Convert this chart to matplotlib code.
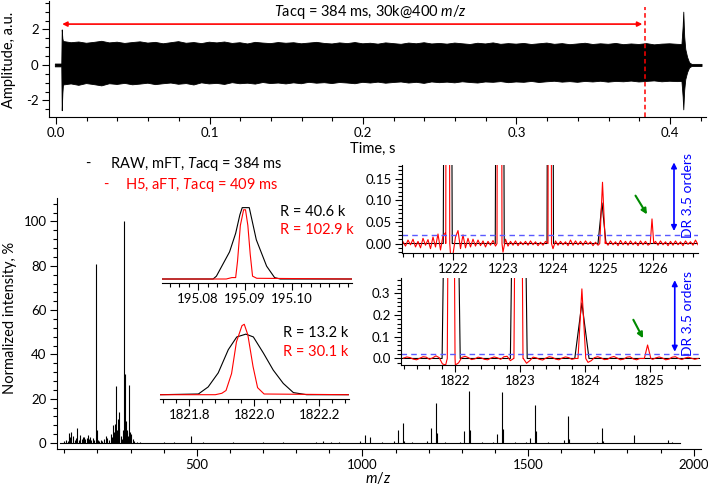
import numpy as np
import matplotlib
matplotlib.use("Agg")
import matplotlib.pyplot as plt
from matplotlib.ticker import MultipleLocator, FormatStrFormatter, FixedLocator

plt.rcParams['font.family'] = ['Lato', 'DejaVu Sans']
plt.rcParams['mathtext.fontset'] = 'custom'
plt.rcParams['mathtext.rm'] = 'Lato'
plt.rcParams['mathtext.it'] = 'Lato:italic'
plt.rcParams['axes.unicode_minus'] = False
plt.rcParams['font.size'] = 10

RED = '#ff0000'
BLUE = '#0000ff'
GREEN = '#008a00'

# ---------------- data ----------------
# time-domain transient envelope (s, a.u.)
t_start = [-0.0008, 0.0034, 0.0037, 0.0041]
hi_start = [0.08, 0.08, 2.0, 1.5]
lo_start = [-0.08, -0.08, -2.55, -1.6]
t_body = np.linspace(0.0045, 0.4045, 81)
hi_body = [1.35, 1.28, 1.32, 1.25, 1.30, 1.36, 1.27, 1.31, 1.24, 1.29,
           1.33, 1.26, 1.30, 1.22, 1.28, 1.34, 1.25, 1.29, 1.23, 1.31,
           1.27, 1.32, 1.24, 1.28, 1.21, 1.30, 1.26, 1.23, 1.29, 1.25,
           1.28, 1.22, 1.26, 1.30, 1.24, 1.21, 1.27, 1.23, 1.29, 1.22,
           1.25, 1.20, 1.27, 1.23, 1.19, 1.26, 1.22, 1.28, 1.21, 1.24,
           1.20, 1.26, 1.22, 1.18, 1.25, 1.21, 1.27, 1.19, 1.23, 1.20,
           1.24, 1.18, 1.22, 1.26, 1.19, 1.23, 1.17, 1.21, 1.25, 1.18,
           1.22, 1.19, 1.24, 1.17, 1.21, 1.18, 1.23, 1.16, 1.20, 1.22,
           1.19]
lo_body = [-1.10, -1.04, -1.12, -1.02, -1.08, -1.15, -1.03, -1.07, -1.01, -1.09,
           -1.05, -1.00, -1.08, -1.03, -0.99, -1.06, -1.02, -1.10, -0.98, -1.04,
           -1.01, -1.07, -0.97, -1.03, -1.00, -1.05, -0.96, -1.02, -0.99, -1.04,
           -0.98, -1.03, -0.95, -1.00, -0.97, -1.02, -0.96, -0.99, -1.03, -0.95,
           -0.99, -0.94, -1.00, -0.96, -0.93, -0.99, -0.95, -1.01, -0.93, -0.97,
           -0.94, -0.98, -0.92, -0.96, -0.99, -0.93, -0.95, -0.91, -0.97, -0.93,
           -0.95, -0.90, -0.96, -0.92, -0.89, -0.94, -0.91, -0.95, -0.90, -0.93,
           -0.89, -0.94, -0.90, -0.92, -0.88, -0.93, -0.90, -0.87, -0.92, -0.89,
           -0.91]
t_end = [0.4075, 0.4083, 0.4087, 0.4093, 0.4100, 0.4112, 0.4125, 0.4140, 0.4206]
hi_end = [1.18, 2.2, 3.0, 1.6, 0.9, 0.45, 0.15, 0.06, 0.06]
lo_end = [-0.90, -1.8, -2.5, -1.4, -0.8, -0.40, -0.14, -0.06, -0.06]

# mass spectrum sticks (m/z, %)
spec_mz = [98, 104, 110, 114, 118, 121, 126, 131, 134, 139, 143, 148, 152, 156, 160,
           164, 168, 171, 175, 178, 182, 186, 190, 195, 198, 202, 206, 211, 215, 220,
           225, 229, 234, 240, 244, 247, 251, 254, 256, 259, 261, 264, 266, 270, 274,
           278, 281, 283, 285, 288, 290, 293, 296, 299, 302, 306, 311, 318, 330,
           400, 430, 481, 520, 610, 700, 760, 860, 880, 905, 930, 994, 1008, 1023,
           1060, 1096, 1108, 1121, 1124, 1150, 1195, 1208, 1222, 1225, 1250, 1295,
           1308, 1322, 1325, 1360, 1395, 1407, 1422, 1425, 1460, 1495, 1507, 1521,
           1524, 1560, 1607, 1621, 1624, 1707, 1722, 1725, 1821, 1921, 1935]
spec_int = [1.0, 1.5, 0.8, 4.5, 2.5, 4.8, 3.0, 1.5, 2.2, 6.8, 1.5, 3.4, 2.0, 2.5, 2.8,
            1.8, 2.2, 3.6, 2.0, 2.6, 1.5, 2.4, 1.2, 80.8, 5.8, 1.5, 1.0, 1.2, 0.8, 2.0,
            3.0, 2.4, 1.5, 4.0, 2.5, 8.0, 5.0, 8.8, 25.7, 6.0, 11.0, 7.0, 13.9, 3.0, 2.0,
            6.0, 100, 31, 10, 6, 5, 3, 26, 5, 4, 2, 1, 0.5, 0.3,
            0.3, 0.4, 3.2, 0.3, 0.3, 0.4, 0.3, 0.6, 1.0, 0.4, 0.3, 1.0, 3.6, 2.8,
            0.5, 0.8, 5.9, 9.2, 0.8, 0.4, 0.7, 6.8, 18.2, 4.5, 0.3, 0.6,
            5.4, 23.5, 5.9, 0.4, 0.6, 4.1, 22.9, 6.2, 0.3, 0.5, 2.4, 17.1,
            5.5, 0.3, 1.3, 12.2, 1.8, 0.5, 7.0, 1.0, 3.6, 1.3, 0.4]

# inset: m/z 195.09 peak (normalized)
p195_raw_mz = [195.0723, 195.0832, 195.0839, 195.0867, 195.0880, 195.0889, 195.0894,
               195.0909, 195.0924, 195.0946, 195.0963, 195.0975, 195.1128]
p195_raw_y = [0.0, 0.0, 0.04, 0.38, 0.64, 0.90, 1.0, 1.0, 0.55, 0.18, 0.02, 0.0, 0.0]
p195_h5_mz = [195.0723, 195.0860, 195.0872, 195.0880, 195.0884, 195.0890, 195.0897,
              195.0901, 195.0906, 195.0911, 195.0916, 195.0925, 195.1128]
p195_h5_y = [0.0, 0.0, 0.02, 0.02, 0.25, 0.75, 0.97, 0.97, 0.75, 0.35, 0.04, 0.01, 0.0]
p195_ticks = [195.08, 195.09, 195.10]

# inset: m/z 1822 peak (normalized)
p1822_raw_mz = [1821.710, 1821.828, 1821.858, 1821.889, 1821.920, 1821.946, 1821.974,
                1821.997, 1822.028, 1822.058, 1822.089, 1822.120, 1822.161, 1822.289]
p1822_raw_y = [0.0, 0.01, 0.11, 0.31, 0.64, 0.82, 0.86, 0.82, 0.59, 0.35, 0.16, 0.03, 0.0, 0.0]
p1822_h5_mz = [1821.710, 1821.880, 1821.900, 1821.913, 1821.930, 1821.945, 1821.962,
               1821.969, 1821.980, 1821.996, 1822.010, 1822.030, 1822.289]
p1822_h5_y = [0.0, 0.0, 0.02, 0.06, 0.30, 0.75, 0.98, 1.0, 0.85, 0.40, 0.10, 0.01, 0.0]
p1822_ticks = [1821.8, 1822.0, 1822.2]

# zoom 1221-1227: peaks (center, height, base width)
z1_raw_c = [1221.895, 1222.935, 1223.945, 1224.98]
z1_raw_h = [3.0, 3.0, 3.0, 0.094]
z1_raw_w = [0.18, 0.18, 0.13, 0.16]
z1_h5_c = [1221.895, 1222.93, 1223.935, 1224.99, 1225.98]
z1_h5_h = [3.0, 3.0, 3.0, 0.142, 0.057]
z1_h5_w = [0.08, 0.10, 0.07, 0.11, 0.07]
z1_ticks = [1222, 1223, 1224, 1225, 1226]
z1_noise_x = np.linspace(1221.0, 1226.9, 119)
z1_noise_y = [0.004, -0.006, 0.008, -0.003, 0.010, -0.008, 0.005, -0.010, 0.012, -0.004,
              0.009, -0.012, 0.015, -0.008, 0.022, -0.015, 0.018, 0.025, -0.020, -0.025,
              -0.025, 0.015, 0.030, -0.012, 0.020, -0.010, 0.012, -0.008, 0.010, -0.006,
              0.008, -0.005, 0.006, -0.008, 0.005, -0.004, 0.007, -0.006, 0.012, -0.015,
              -0.020, 0.010, -0.006, 0.005, -0.004, 0.006, -0.005, 0.004, -0.003, 0.005,
              -0.004, 0.006, -0.003, 0.004, -0.005, 0.003, -0.004, 0.005, 0.008, -0.010,
              -0.012, 0.006, -0.004, 0.005, -0.003, 0.004, -0.005, 0.008, -0.004, 0.006,
              -0.003, 0.005, -0.004, 0.006, -0.002, 0.004, -0.005, 0.003, -0.004, 0.002,
              -0.015, 0.005, -0.004, 0.006, -0.003, 0.004, -0.005, 0.007, -0.003, 0.005,
              -0.004, 0.006, -0.003, 0.004, -0.005, 0.006, -0.003, 0.005, -0.004, 0.004,
              -0.003, 0.005, -0.004, 0.006, -0.003, 0.004, -0.005, 0.005, -0.004, 0.006,
              -0.003, 0.004, -0.005, 0.006, -0.002, 0.004, -0.004, 0.008, -0.003]

# zoom 1821-1826
z2_raw_c = [1821.935, 1822.98, 1823.955]
z2_raw_h = [3.0, 3.0, 0.255]
z2_raw_w = [0.28, 0.26, 0.22]
z2_h5_c = [1821.935, 1822.975, 1823.955, 1824.97]
z2_h5_h = [3.0, 3.0, 0.32, 0.062]
z2_h5_w = [0.12, 0.14, 0.12, 0.10]
z2_ticks = [1822, 1823, 1824, 1825]
z2_noise_x = np.linspace(1821.20, 1825.75, 92)
z2_noise_y = [0.002, 0.007, 0.004, -0.003, -0.006, 0.001, 0.008, 0.006, -0.004, 0.003,
              0.012, 0.004, -0.025, -0.030, 0.0, 0.0, -0.030, -0.020, 0.005, 0.010,
              0.004, -0.005, -0.002, 0.006, 0.003, -0.004, -0.006, 0.002, 0.007, 0.003,
              -0.004, 0.008, 0.010, -0.010, 0.0, 0.0, 0.0, 0.0, -0.022, -0.010,
              0.006, 0.003, -0.004, -0.007, 0.002, 0.008, 0.005, -0.003, -0.006, 0.002,
              0.007, 0.004, -0.004, 0.0, 0.0, 0.0, 0.0, -0.018, -0.010, 0.004,
              0.008, 0.003, -0.005, -0.004, 0.005, 0.009, 0.002, -0.006, -0.003, 0.006,
              0.008, -0.002, -0.006, 0.0, 0.0, 0.0, 0.0, -0.004, 0.003, 0.007,
              0.002, -0.006, -0.003, 0.006, 0.008, 0.0, -0.005, 0.002, 0.006, 0.001,
              -0.004, 0.0]

W, H = 708, 486
TICK_FS = 9.5
TXT_FS = 10.5


def box(x0, y0, x1, y1):
    return [x0 / W, 1 - y1 / H, (x1 - x0) / W, (y1 - y0) / H]


def fxy(px, py):
    return px / W, 1 - py / H


def trace(lo, hi, centers, heights, widths, nx=None, ny=None):
    if nx is None:
        xs, ys = [lo, hi], [0.0, 0.0]
    else:
        xs, ys = list(nx), list(ny)
    keep = [all(abs(x - c) > w / 2 for c, w in zip(centers, widths)) for x in xs]
    xs = [x for x, k in zip(xs, keep) if k]
    ys = [y for y, k in zip(ys, keep) if k]
    for c, h, w in zip(centers, heights, widths):
        xs += [c - w / 2, c, c + w / 2]
        ys += [0.0, h, 0.0]
    order = np.argsort(xs)
    return np.array(xs)[order], np.array(ys)[order]


def style(ax, left=True):
    ax.spines['top'].set_visible(False)
    ax.spines['right'].set_visible(False)
    ax.tick_params(which='both', direction='out', width=0.8, labelsize=TICK_FS, pad=2.5)
    ax.tick_params(which='major', length=5)
    ax.tick_params(which='minor', length=3)
    if not left:
        ax.spines['left'].set_visible(False)
        ax.set_yticks([])
    ax.patch.set_alpha(0)


fig = plt.figure(figsize=(7.08, 4.86), dpi=100)

# ---------------- transient ----------------
ax0 = fig.add_axes(box(49, 1, 706, 117))
t_all = np.concatenate([t_start, t_body, t_end])
hi_all = np.concatenate([hi_start, hi_body, hi_end])
lo_all = np.concatenate([lo_start, lo_body, lo_end])
ax0.fill_between(t_all, lo_all, hi_all, color='k', lw=0.6)
ax0.set_xlim(-0.0046, 0.4235)
ax0.set_ylim(-2.93, 3.6)
ax0.xaxis.set_major_locator(MultipleLocator(0.1))
ax0.xaxis.set_minor_locator(MultipleLocator(0.02))
ax0.xaxis.set_major_formatter(FormatStrFormatter('%.1f'))
ax0.yaxis.set_major_locator(MultipleLocator(2))
ax0.yaxis.set_minor_locator(MultipleLocator(0.5))
style(ax0)
ax0.annotate('', xy=(0.004, 2.3), xytext=(0.382, 2.3),
             arrowprops=dict(arrowstyle='<|-|>', color=RED, lw=1.2, mutation_scale=7,
                             shrinkA=0, shrinkB=0))
ax0.plot([0.384, 0.384], [-2.93, 3.25], ls=(0, (3, 2)), color=RED, lw=1.1)
ax0.text(0.205, 3.0, r'$\mathit{T}$acq = 384 ms, 30k@400 $\mathit{m/z}$',
         ha='center', va='center', fontsize=TXT_FS)
fig.text(*fxy(373, 149), 'Time, s', ha='center', va='center', fontsize=TXT_FS)
fig.text(*fxy(9, 60), 'Amplitude, a.u.', rotation=90, ha='center', va='center', fontsize=TXT_FS)

# ---------------- full spectrum ----------------
ax1 = fig.add_axes(box(57, 198, 701, 449))
ax1.vlines(spec_mz, 0, spec_int, color='k', lw=0.8)
ax1.plot([88, 1960], [0, 0], color='k', lw=0.8)
ax1.set_xlim(78, 2022)
ax1.set_ylim(-2.7, 110.6)
ax1.xaxis.set_major_locator(MultipleLocator(500))
ax1.xaxis.set_minor_locator(MultipleLocator(100))
ax1.yaxis.set_major_locator(MultipleLocator(20))
ax1.yaxis.set_minor_locator(MultipleLocator(4))
style(ax1)
fig.text(*fxy(378, 478), r'$\mathit{m/z}$', ha='center', va='center', fontsize=TXT_FS)
fig.text(*fxy(10, 318), 'Normalized intensity, %', rotation=90, ha='center', va='center',
         fontsize=TXT_FS)

fig.text(*fxy(85, 164), '-', color='k', ha='left', va='center', fontsize=TXT_FS)
fig.text(*fxy(110, 164), r'RAW, mFT, $\mathit{T}$acq = 384 ms', color='k', ha='left',
         va='center', fontsize=TXT_FS)
fig.text(*fxy(103, 185), '-', color=RED, ha='left', va='center', fontsize=TXT_FS)
fig.text(*fxy(125, 185), r'H5, aFT, $\mathit{T}$acq = 409 ms', color=RED, ha='left',
         va='center', fontsize=TXT_FS)

# ---------------- inset 195.09 ----------------
ax2 = fig.add_axes(box(162, 200, 352, 283))
ax2.plot(p195_raw_mz, p195_raw_y, color='k', lw=0.8)
ax2.plot(p195_h5_mz, p195_h5_y, color=RED, lw=0.8)
ax2.set_xlim(195.0723, 195.1128)
ax2.set_ylim(-0.056, 1.107)
ax2.xaxis.set_major_locator(FixedLocator(p195_ticks))
ax2.xaxis.set_minor_locator(MultipleLocator(0.002))
ax2.xaxis.set_major_formatter(FormatStrFormatter('%.2f'))
style(ax2, left=False)
fig.text(*fxy(280, 212), 'R = 40.6 k', color='k', ha='left', va='center', fontsize=TXT_FS)
fig.text(*fxy(280, 230), 'R = 102.9 k', color=RED, ha='left', va='center', fontsize=TXT_FS)

# ---------------- inset 1822.0 ----------------
ax3 = fig.add_axes(box(160, 318, 349, 399))
ax3.plot(p1822_raw_mz, p1822_raw_y, color='k', lw=0.8)
ax3.plot(p1822_h5_mz, p1822_h5_y, color=RED, lw=0.8)
ax3.set_xlim(1821.71, 1822.291)
ax3.set_ylim(-0.061, 1.089)
ax3.xaxis.set_major_locator(FixedLocator(p1822_ticks))
ax3.xaxis.set_minor_locator(MultipleLocator(0.04))
ax3.xaxis.set_major_formatter(FormatStrFormatter('%.1f'))
style(ax3, left=False)
fig.text(*fxy(283, 333), 'R = 13.2 k', color='k', ha='left', va='center', fontsize=TXT_FS)
fig.text(*fxy(283, 352), 'R = 30.1 k', color=RED, ha='left', va='center', fontsize=TXT_FS)

# ---------------- zoom 1221-1227 ----------------
ax4 = fig.add_axes(box(402, 165, 698, 253))
ax4.set_facecolor('white')
rx, ry = trace(1220.98, 1226.9, z1_raw_c, z1_raw_h, z1_raw_w)
hx, hy = trace(1220.98, 1226.9, z1_h5_c, z1_h5_h, z1_h5_w, z1_noise_x, z1_noise_y)
ax4.plot(rx, ry, color='k', lw=0.8)
ax4.plot(hx, hy, color=RED, lw=0.8)
ax4.axhline(0.019, color='#5a5aff', ls=(0, (4, 3)), lw=1)
ax4.set_xlim(1220.98, 1226.9)
ax4.set_ylim(-0.022, 0.182)
ax4.xaxis.set_major_locator(FixedLocator(z1_ticks))
ax4.xaxis.set_minor_locator(MultipleLocator(0.2))
ax4.yaxis.set_major_locator(MultipleLocator(0.05))
ax4.yaxis.set_minor_locator(MultipleLocator(0.01))
ax4.yaxis.set_major_formatter(FormatStrFormatter('%.2f'))
style(ax4)
ax4.annotate('', xy=(1226.42, 0.029), xytext=(1226.42, 0.188),
             arrowprops=dict(arrowstyle='<|-|>', color=BLUE, lw=1.2, mutation_scale=8,
                             shrinkA=0, shrinkB=0), annotation_clip=False)
ax4.annotate('', xy=(1225.88, 0.0675), xytext=(1225.65, 0.111),
             arrowprops=dict(arrowstyle='-|>', color=GREEN, lw=1.5, mutation_scale=8,
                             shrinkA=0, shrinkB=0))
fig.text(*fxy(688, 196), 'DR 3.5 orders', color=BLUE, rotation=90, ha='center',
         va='center', fontsize=10)

# ---------------- zoom 1821-1826 ----------------
ax5 = fig.add_axes(box(401, 278, 700, 365))
ax5.set_facecolor('white')
rx, ry = trace(1821.16, 1825.78, z2_raw_c, z2_raw_h, z2_raw_w)
hx, hy = trace(1821.16, 1825.78, z2_h5_c, z2_h5_h, z2_h5_w, z2_noise_x, z2_noise_y)
ax5.plot(rx, ry, color='k', lw=0.8)
ax5.plot(hx, hy, color=RED, lw=0.8)
ax5.axhline(0.019, color='#5a5aff', ls=(0, (4, 3)), lw=1)
ax5.set_xlim(1821.16, 1825.78)
ax5.set_ylim(-0.03, 0.37)
ax5.xaxis.set_major_locator(FixedLocator(z2_ticks))
ax5.xaxis.set_minor_locator(MultipleLocator(0.2))
ax5.yaxis.set_major_locator(MultipleLocator(0.1))
ax5.yaxis.set_minor_locator(MultipleLocator(0.02))
ax5.yaxis.set_major_formatter(FormatStrFormatter('%.1f'))
style(ax5)
ax5.annotate('', xy=(1825.39, 0.031), xytext=(1825.39, 0.36),
             arrowprops=dict(arrowstyle='<|-|>', color=BLUE, lw=1.2, mutation_scale=8,
                             shrinkA=0, shrinkB=0), annotation_clip=False)
ax5.annotate('', xy=(1824.90, 0.093), xytext=(1824.75, 0.178),
             arrowprops=dict(arrowstyle='-|>', color=GREEN, lw=1.5, mutation_scale=8,
                             shrinkA=0, shrinkB=0))
fig.text(*fxy(688, 313), 'DR 3.5 orders', color=BLUE, rotation=90, ha='center',
         va='center', fontsize=10)

fig.savefig('out.png', dpi=100)
